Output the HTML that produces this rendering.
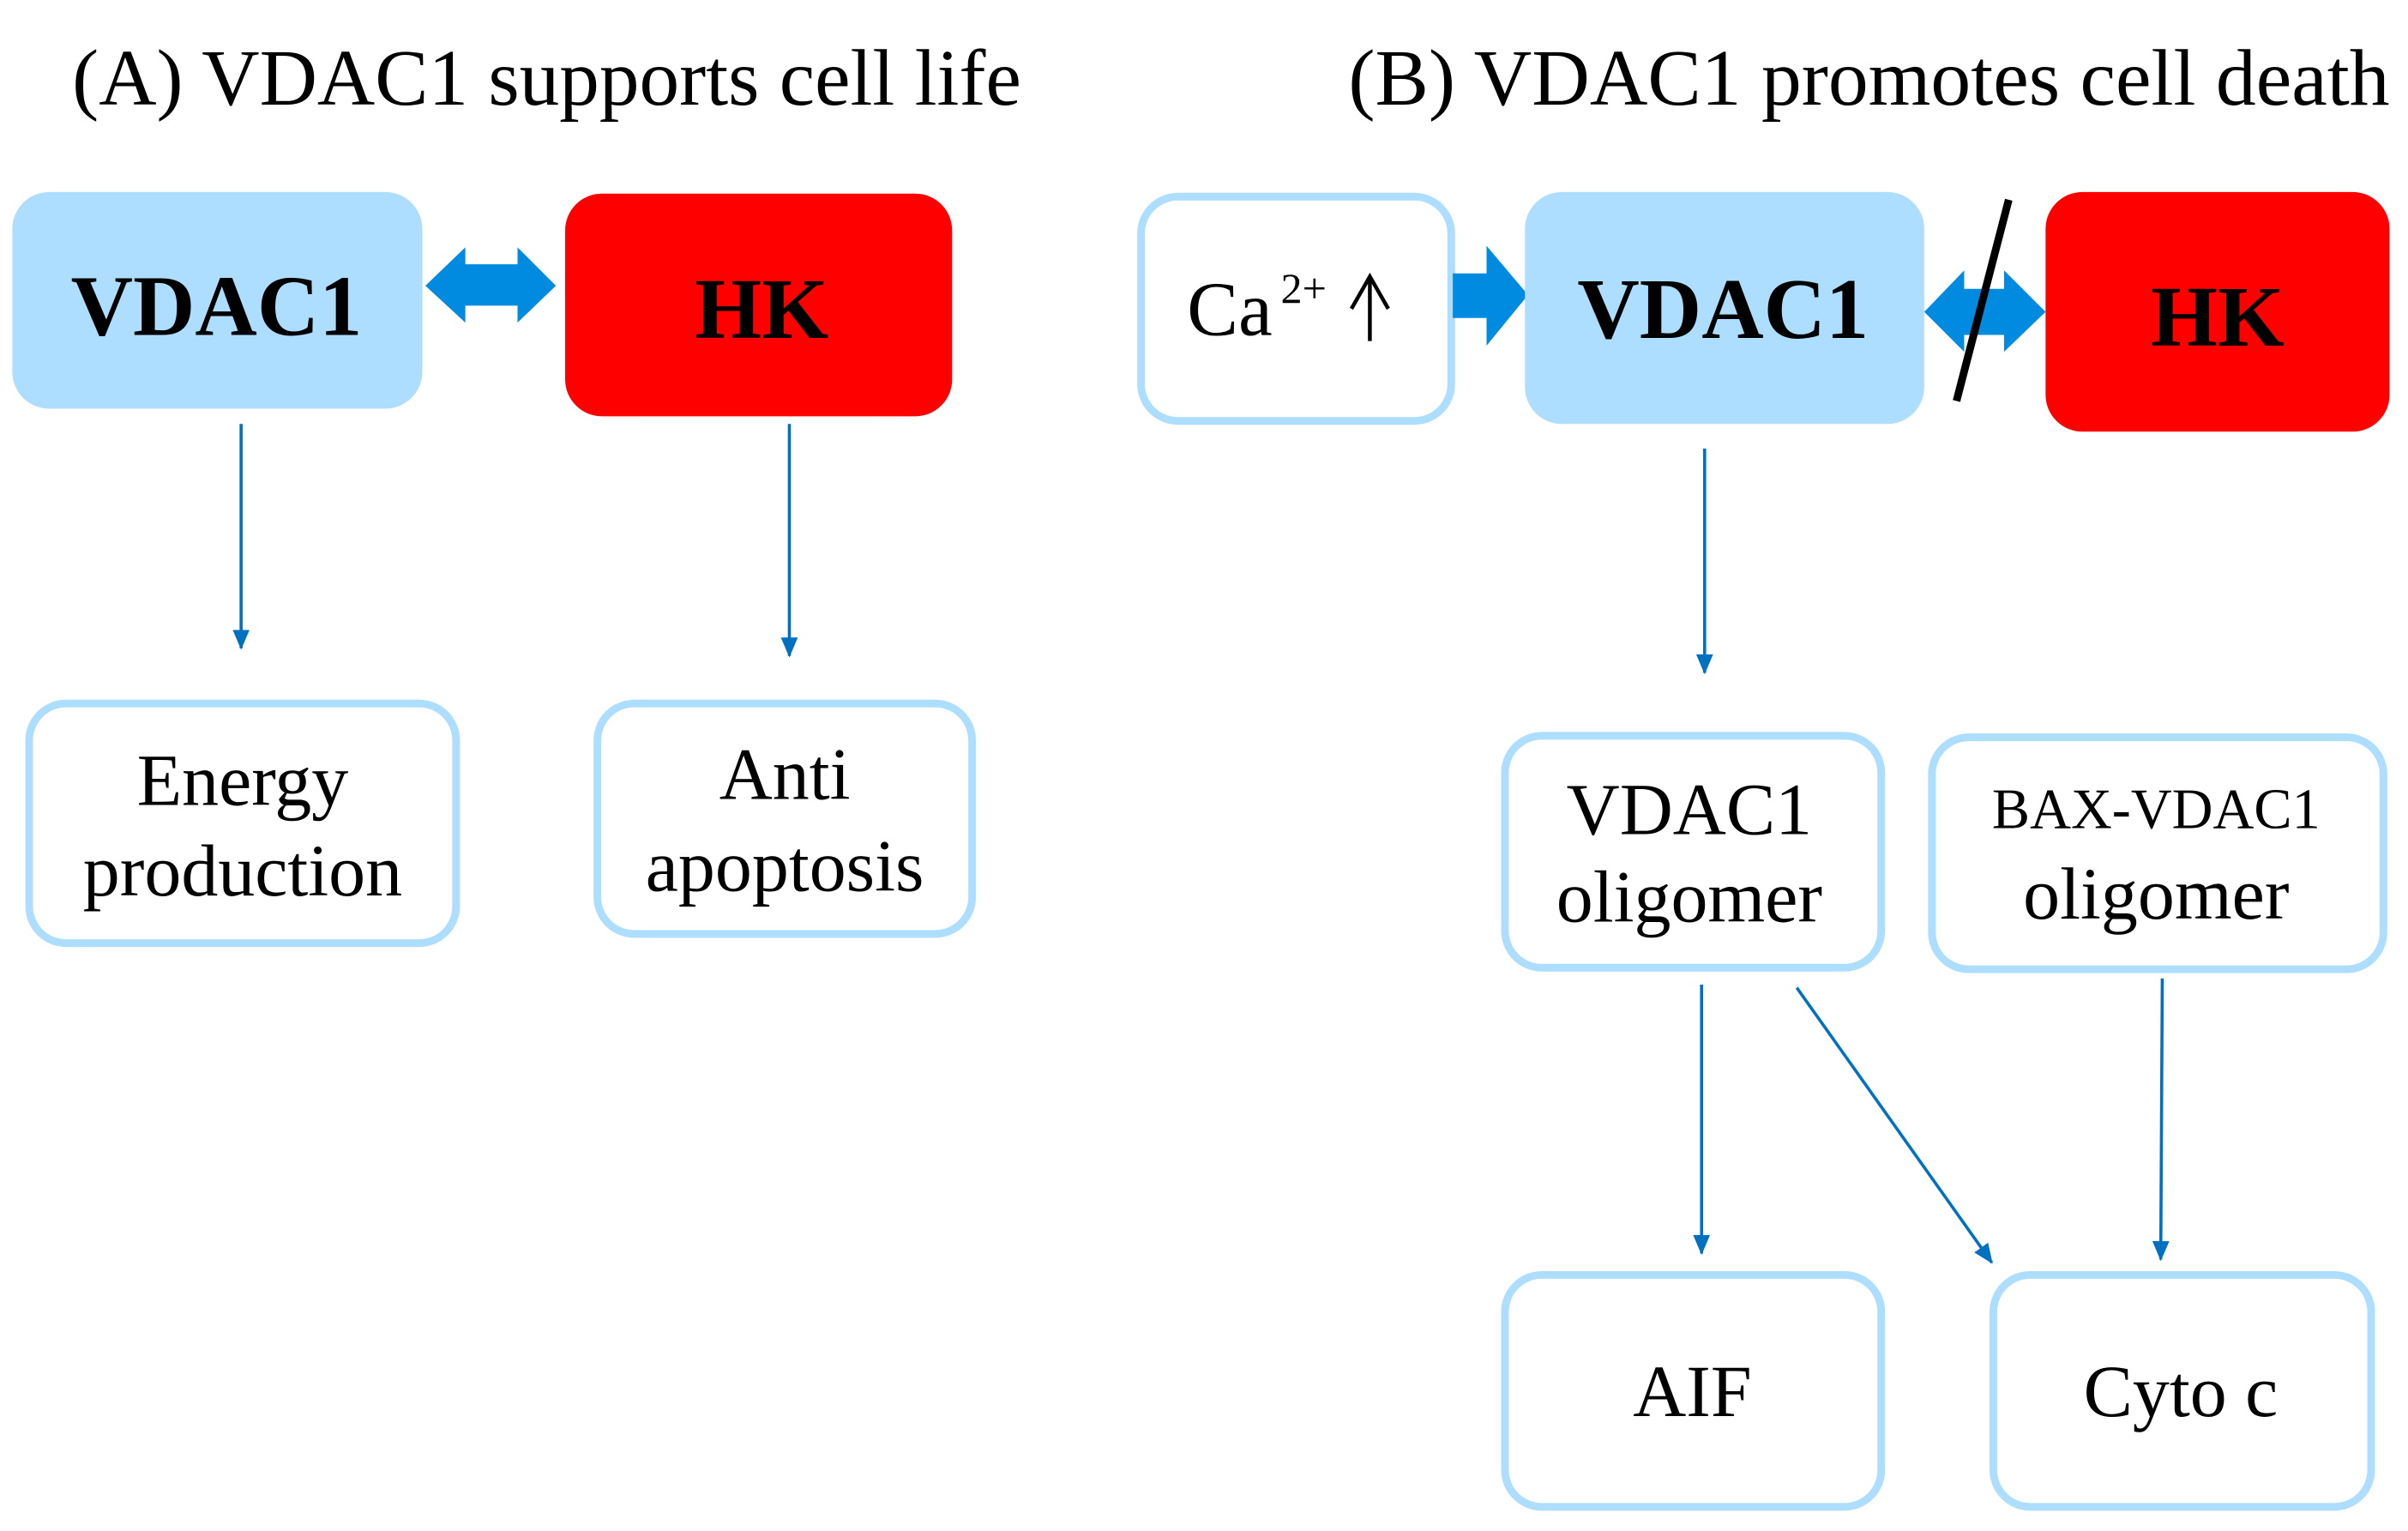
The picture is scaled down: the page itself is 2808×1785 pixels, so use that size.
<!DOCTYPE html>
<html><head><meta charset="utf-8"><style>
html,body{margin:0;padding:0;background:#fff;}
svg{display:block;}
text{font-family:"Liberation Serif",serif;fill:#000;}
</style></head><body>
<svg width="2808" height="1785" viewBox="0 0 1568 996.7" xmlns="http://www.w3.org/2000/svg">
<defs>
<marker id="ah" markerWidth="14" markerHeight="12" refX="12" refY="6" orient="auto" markerUnits="userSpaceOnUse">
<path d="M0,0.5 L13,6 L0,11.5 z" fill="#0070C0"/>
</marker>
</defs>
<text x="47" y="68" font-size="52" textLength="618" lengthAdjust="spacingAndGlyphs">(A) VDAC1 supports cell life</text>
<text x="878" y="68" font-size="52" textLength="678" lengthAdjust="spacingAndGlyphs">(B) VDAC1 promotes cell death</text>

<!-- A -->
<rect x="8" y="125" width="267" height="141" rx="24" fill="#ADDEFF"/>
<text x="141" y="218" font-size="56" font-weight="bold" text-anchor="middle">VDAC1</text>
<rect x="368" y="126" width="252" height="145" rx="24" fill="#FF0000"/>
<text x="496" y="220" font-size="56" font-weight="bold" text-anchor="middle">HK</text>
<path d="M277,186 L303,161 L303,172 L337,172 L337,161 L362,186 L337,210 L337,199 L303,199 L303,210 z" fill="#008BE0"/>
<line x1="157" y1="276" x2="157" y2="422" stroke="#0070C0" stroke-width="2" marker-end="url(#ah)"/>
<line x1="514" y1="276" x2="514" y2="427" stroke="#0070C0" stroke-width="2" marker-end="url(#ah)"/>
<rect x="19" y="458" width="278" height="156" rx="24" fill="#fff" stroke="#ADDEFF" stroke-width="5"/>
<text x="158" y="524" font-size="48" text-anchor="middle">Energy</text>
<text x="158" y="583" font-size="48" text-anchor="middle">production</text>
<rect x="389" y="458" width="244" height="150" rx="24" fill="#fff" stroke="#ADDEFF" stroke-width="5"/>
<text x="511" y="520" font-size="48" text-anchor="middle">Anti</text>
<text x="511" y="580" font-size="48" text-anchor="middle">apoptosis</text>

<!-- B -->
<rect x="743" y="128" width="202" height="146" rx="24" fill="#fff" stroke="#ADDEFF" stroke-width="5"/>
<text x="773" y="218" font-size="50">Ca</text>
<text x="834" y="197" font-size="28">2+</text>
<line x1="892" y1="222" x2="892" y2="182" stroke="#000" stroke-width="2.5"/>
<path d="M880,201 L892,180 L904,201" fill="none" stroke="#000" stroke-width="2.5"/>
<path d="M946,178 L968,178 L968,160 L995,192 L968,225 L968,207 L946,207 z" fill="#008BE0"/>
<rect x="993" y="125" width="260" height="151" rx="24" fill="#ADDEFF"/>
<text x="1122" y="220" font-size="56" font-weight="bold" text-anchor="middle">VDAC1</text>
<rect x="1332" y="125" width="224" height="156" rx="24" fill="#FF0000"/>
<text x="1444" y="225" font-size="56" font-weight="bold" text-anchor="middle">HK</text>
<path d="M1253,203 L1279,176 L1279,188 L1305,188 L1305,176 L1332,203 L1305,229 L1305,218 L1279,218 L1279,229 z" fill="#008BE0"/>
<line x1="1308" y1="130" x2="1274" y2="261" stroke="#000" stroke-width="5"/>
<line x1="1110" y1="292" x2="1110" y2="438" stroke="#0070C0" stroke-width="2" marker-end="url(#ah)"/>
<rect x="980" y="479" width="245" height="151" rx="24" fill="#fff" stroke="#ADDEFF" stroke-width="5"/>
<text x="1100" y="543" font-size="48" text-anchor="middle">VDAC1</text>
<text x="1100" y="600" font-size="48" text-anchor="middle">oligomer</text>
<rect x="1258" y="480" width="294" height="151" rx="24" fill="#fff" stroke="#ADDEFF" stroke-width="5"/>
<text x="1404" y="539" font-size="37" text-anchor="middle">BAX-VDAC1</text>
<text x="1404" y="598" font-size="48" text-anchor="middle">oligomer</text>
<line x1="1108" y1="641" x2="1108" y2="816" stroke="#0070C0" stroke-width="2" marker-end="url(#ah)"/>
<line x1="1170" y1="643" x2="1297" y2="822" stroke="#0070C0" stroke-width="2" marker-end="url(#ah)"/>
<line x1="1408" y1="637" x2="1407" y2="820" stroke="#0070C0" stroke-width="2" marker-end="url(#ah)"/>
<rect x="980" y="830" width="245" height="151" rx="24" fill="#fff" stroke="#ADDEFF" stroke-width="5"/>
<text x="1102" y="922" font-size="48" text-anchor="middle">AIF</text>
<rect x="1298" y="830" width="246" height="151" rx="24" fill="#fff" stroke="#ADDEFF" stroke-width="5"/>
<text x="1420" y="922" font-size="48" text-anchor="middle">Cyto c</text>
</svg>
</body></html>
